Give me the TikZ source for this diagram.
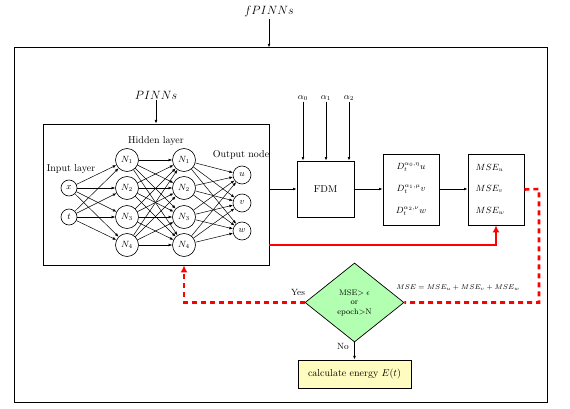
\documentclass[tikz,border=0pt]{standalone}
\usetikzlibrary{arrows.meta,shapes.geometric,calc}
\begin{document}
\begin{tikzpicture}[x=1pt,y=-1pt,
  >={Latex[length=3.6pt,width=2.8pt]},
  box/.style={draw,line width=0.8pt,inner sep=0pt},
  neuron/.style={circle,draw,line width=0.6pt,inner sep=0pt,font=\small},
  conn/.style={->,line width=0.5pt},
  arr/.style={->,line width=0.7pt},
  redsolid/.style={draw=red,line width=2.6pt,-{Latex[length=7pt,width=7pt]}},
  reddash/.style={draw=red,line width=2.6pt,dash pattern=on 5pt off 4pt},
  intext/.style={inner sep=0.5pt,font=\fontsize{9}{11}\selectfont},
  lbl/.style={inner sep=1pt,font=\normalsize}]
\useasboundingbox (0,0) rectangle (570,409);
% outer frame
\node[box,line width=1pt,minimum width=533pt,minimum height=354pt] (outer) at (280.5,225) {};
\node[lbl,font=\fontsize{13}{15}\selectfont] (fp) at (269,12) {$fPINNs$};
\draw[arr] (fp.south) -- (fp.south |- outer.north);
% PINN box
\node[box,minimum width=226pt,minimum height=141pt] (pinn) at (156,194.5) {};
\node[lbl,font=\fontsize{13}{15}\selectfont] (pl) at (156,95) {$PINNs$};
\draw[arr] (pl.south) -- (pinn.north);
\node[lbl] (hl) at (156,141) {Hidden layer};
\node[lbl] (il) at (71,169) {Input layer};
\node[lbl] (ol) at (241,155) {Output node};
% neurons
\node[neuron,minimum size=16pt] (x) at (69,188) {$x$};
\node[neuron,minimum size=16pt] (t) at (69,217) {$t$};
\foreach \i/\y in {1/160,2/188,3/217,4/245}{
  \node[neuron,minimum size=23pt] (a\i) at (127,\y) {$N_\i$};
  \node[neuron,minimum size=23pt] (b\i) at (184,\y) {$N_\i$};
}
\node[neuron,minimum size=18pt] (u) at (242,175) {$u$};
\node[neuron,minimum size=18pt] (v) at (242,203) {$v$};
\node[neuron,minimum size=18pt] (w) at (242,231) {$w$};
\foreach \s in {x,t}{\foreach \i in {1,...,4}{\draw[conn] (\s) -- (a\i);}}
\foreach \i in {1,...,4}{\foreach \j in {1,...,4}{\draw[conn] (a\i) -- (b\j);}}
\foreach \i in {1,...,4}{\foreach \o in {u,v,w}{\draw[conn] (b\i) -- (\o);}}
% FDM
\node[box,minimum width=57pt,minimum height=56pt] (fdm) at (325.5,189) {FDM};
\node[lbl,font=\small] (al0) at (303,98) {$\alpha_0$};
\node[lbl,font=\small] (al1) at (326,98) {$\alpha_1$};
\node[lbl,font=\small] (al2) at (349,98) {$\alpha_2$};
\foreach \k in {0,1,2}{\draw[arr] (al\k.south) -- (al\k.south |- fdm.north);}
% derivative box
\node[box,minimum width=56pt,minimum height=71pt] (der) at (411,189.5) {};
\node[intext] (d0) at (411,167) {$D_t^{\alpha_0,\eta}u$};
\node[intext] (d1) at (411,189) {$D_t^{\alpha_1,\mu}v$};
\node[intext] (d2) at (411,211) {$D_t^{\alpha_2,\nu}w$};
% MSE box
\node[box,minimum width=56pt,minimum height=71pt] (mse) at (496,189.5) {};
\node[intext,anchor=west] (m0) at (475,168) {$MSE_u$};
\node[intext,anchor=west] (m1) at (475,189) {$MSE_v$};
\node[intext,anchor=west] (m2) at (475,211) {$MSE_w$};
\draw[arr] (pinn.east |- fdm) -- (fdm.west);
\draw[arr] (fdm.east) -- (fdm.east -| der.west);
\draw[arr] (der.east |- fdm) -- (fdm -| mse.west);
% decision
\node[diamond,draw,line width=0.7pt,fill=green!30,minimum width=99pt,minimum height=79pt,inner sep=0pt,align=center,font=\footnotesize] (dia) at (354.5,302.5)
  {MSE$>\epsilon$\\or\\epoch$>$N};
\node[box,line width=0.9pt,fill=yellow!25,minimum width=113pt,minimum height=28pt] (en) at (354.5,374) {calculate energy $E(t)$};
\draw[arr] (dia.south) -- (en.north);
\node[lbl,font=\small] (yes) at (298,292) {Yes};
\node[lbl,font=\small] (no) at (343,346) {No};
\node[lbl,font=\fontsize{7.5}{9}\selectfont] (eq) at (458,288) {$MSE=MSE_u+MSE_v+MSE_w$};
% red connectors
\coordinate (rc) at (539,189);
\draw[redsolid] (b4 -| pinn.east) -| (mse.south);
\draw[reddash] (mse.east) -- (rc) |- (dia.east);
\draw[reddash,-{Latex[length=7pt,width=7pt]}] (dia.west) -| (b4 |- pinn.south);
\end{tikzpicture}
\end{document}
